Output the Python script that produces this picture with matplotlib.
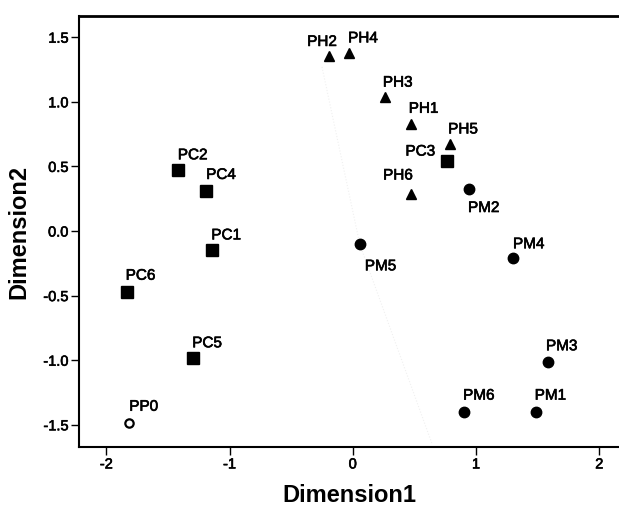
"""MDS-style two-dimension scatter of PC / PH / PM / PP samples."""

import matplotlib

matplotlib.use("Agg")
import matplotlib.patheffects as pe
import matplotlib.pyplot as plt

plt.rcParams["font.family"] = ["Liberation Sans", "DejaVu Sans"]

# --- data ---
pc_labels = ["PC1", "PC2", "PC3", "PC4", "PC5", "PC6"]
pc_x = [-1.14, -1.42, 0.765, -1.19, -1.295, -1.835]
pc_y = [-0.15, 0.47, 0.545, 0.31, -0.985, -0.47]

ph_labels = ["PH1", "PH2", "PH3", "PH4", "PH5", "PH6"]
ph_x = [0.47, -0.195, 0.26, -0.03, 0.79, 0.47]
ph_y = [0.83, 1.355, 1.04, 1.375, 0.67, 0.29]

pm_labels = ["PM1", "PM2", "PM3", "PM4", "PM5", "PM6"]
pm_x = [1.484, 0.943, 1.584, 1.30, 0.057, 0.903]
pm_y = [-1.398, 0.325, -1.016, -0.211, -0.103, -1.398]

pp_labels = ["PP0"]
pp_x = [-1.814]
pp_y = [-1.484]

# faint guide line in the background
guide_x = [-0.25, 0.057, 0.64]
guide_y = [1.27, -0.103, -1.64]

x_ticks = [-2, -1, 0, 1, 2]
y_ticks = [-1.5, -1.0, -0.5, 0.0, 0.5, 1.0, 1.5]

# label placement in pixels relative to the marker: (dx, dy up, ha)
LABEL_OFFSETS = {
    "PC1": (-1, 15, "left"), "PC2": (0, 15, "left"), "PC3": (-12, 9, "right"),
    "PC4": (0, 16, "left"), "PC5": (-1, 15, "left"), "PC6": (-1, 16, "left"),
    "PH1": (-2, 15, "left"), "PH2": (8, 14, "right"), "PH3": (-2, 14, "left"),
    "PH4": (-1, 15, "left"), "PH5": (-2, 15, "left"), "PH6": (2, 18, "right"),
    "PM1": (-1, 16, "left"), "PM2": (-1, -19, "left"), "PM3": (-2, 16, "left"),
    "PM4": (0, 14, "left"), "PM5": (5, -22, "left"), "PM6": (-1, 16, "left"),
    "PP0": (0, 16, "left"),
}

THICKEN = [pe.withStroke(linewidth=0.45, foreground="black")]


def main() -> None:
    fig = plt.figure(figsize=(6.19, 5.07), dpi=100)
    ax = fig.add_axes([0.1276, 0.1183, 0.8724, 0.8501])

    ax.plot(guide_x, guide_y, color="#f0f0f0", linestyle=":", linewidth=0.8, zorder=1)

    ax.plot(pc_x, pc_y, "s", color="black", markersize=8, linestyle="none", zorder=3)
    ax.plot(ph_x, ph_y, "^", color="black", markersize=7.5, linestyle="none", zorder=3)
    ax.plot(pm_x, pm_y, "o", color="black", markersize=7.5, linestyle="none", zorder=3)
    ax.plot(pp_x, pp_y, "o", markerfacecolor="white", markeredgecolor="black",
            markersize=6, markeredgewidth=1.6, linestyle="none", zorder=3)

    for labels, xs, ys in [(pc_labels, pc_x, pc_y), (ph_labels, ph_x, ph_y),
                           (pm_labels, pm_x, pm_y), (pp_labels, pp_x, pp_y)]:
        for name, x, y in zip(labels, xs, ys):
            dx, dy, ha = LABEL_OFFSETS[name]
            ax.annotate(name, xy=(x, y), xytext=(dx, dy), textcoords="offset pixels",
                        ha=ha, va="center", fontsize=11, color="black", zorder=4,
                        path_effects=THICKEN)

    ax.set_xlim(-2.222, 2.16)
    ax.set_ylim(-1.672, 1.664)
    ax.set_xticks(x_ticks)
    ax.set_xticklabels([str(t) for t in x_ticks])
    ax.set_yticks(y_ticks)
    ax.set_yticklabels([f"{t:.1f}" for t in y_ticks])
    ax.tick_params(axis="both", direction="out", length=6, width=1, labelsize=10.5,
                   colors="black", pad=1.5)
    for lbl in ax.get_xticklabels() + ax.get_yticklabels():
        lbl.set_path_effects(THICKEN)

    ax.spines["right"].set_visible(False)
    ax.spines["top"].set_linewidth(2)
    ax.spines["left"].set_linewidth(1.5)
    ax.spines["bottom"].set_linewidth(1.5)

    ax.set_xlabel("Dimension1", fontsize=17, fontweight="bold", labelpad=9)
    ax.set_ylabel("Dimension2", fontsize=17, fontweight="bold", labelpad=9)

    fig.savefig("out.png", dpi=100)
    plt.close(fig)


if __name__ == "__main__":
    main()
